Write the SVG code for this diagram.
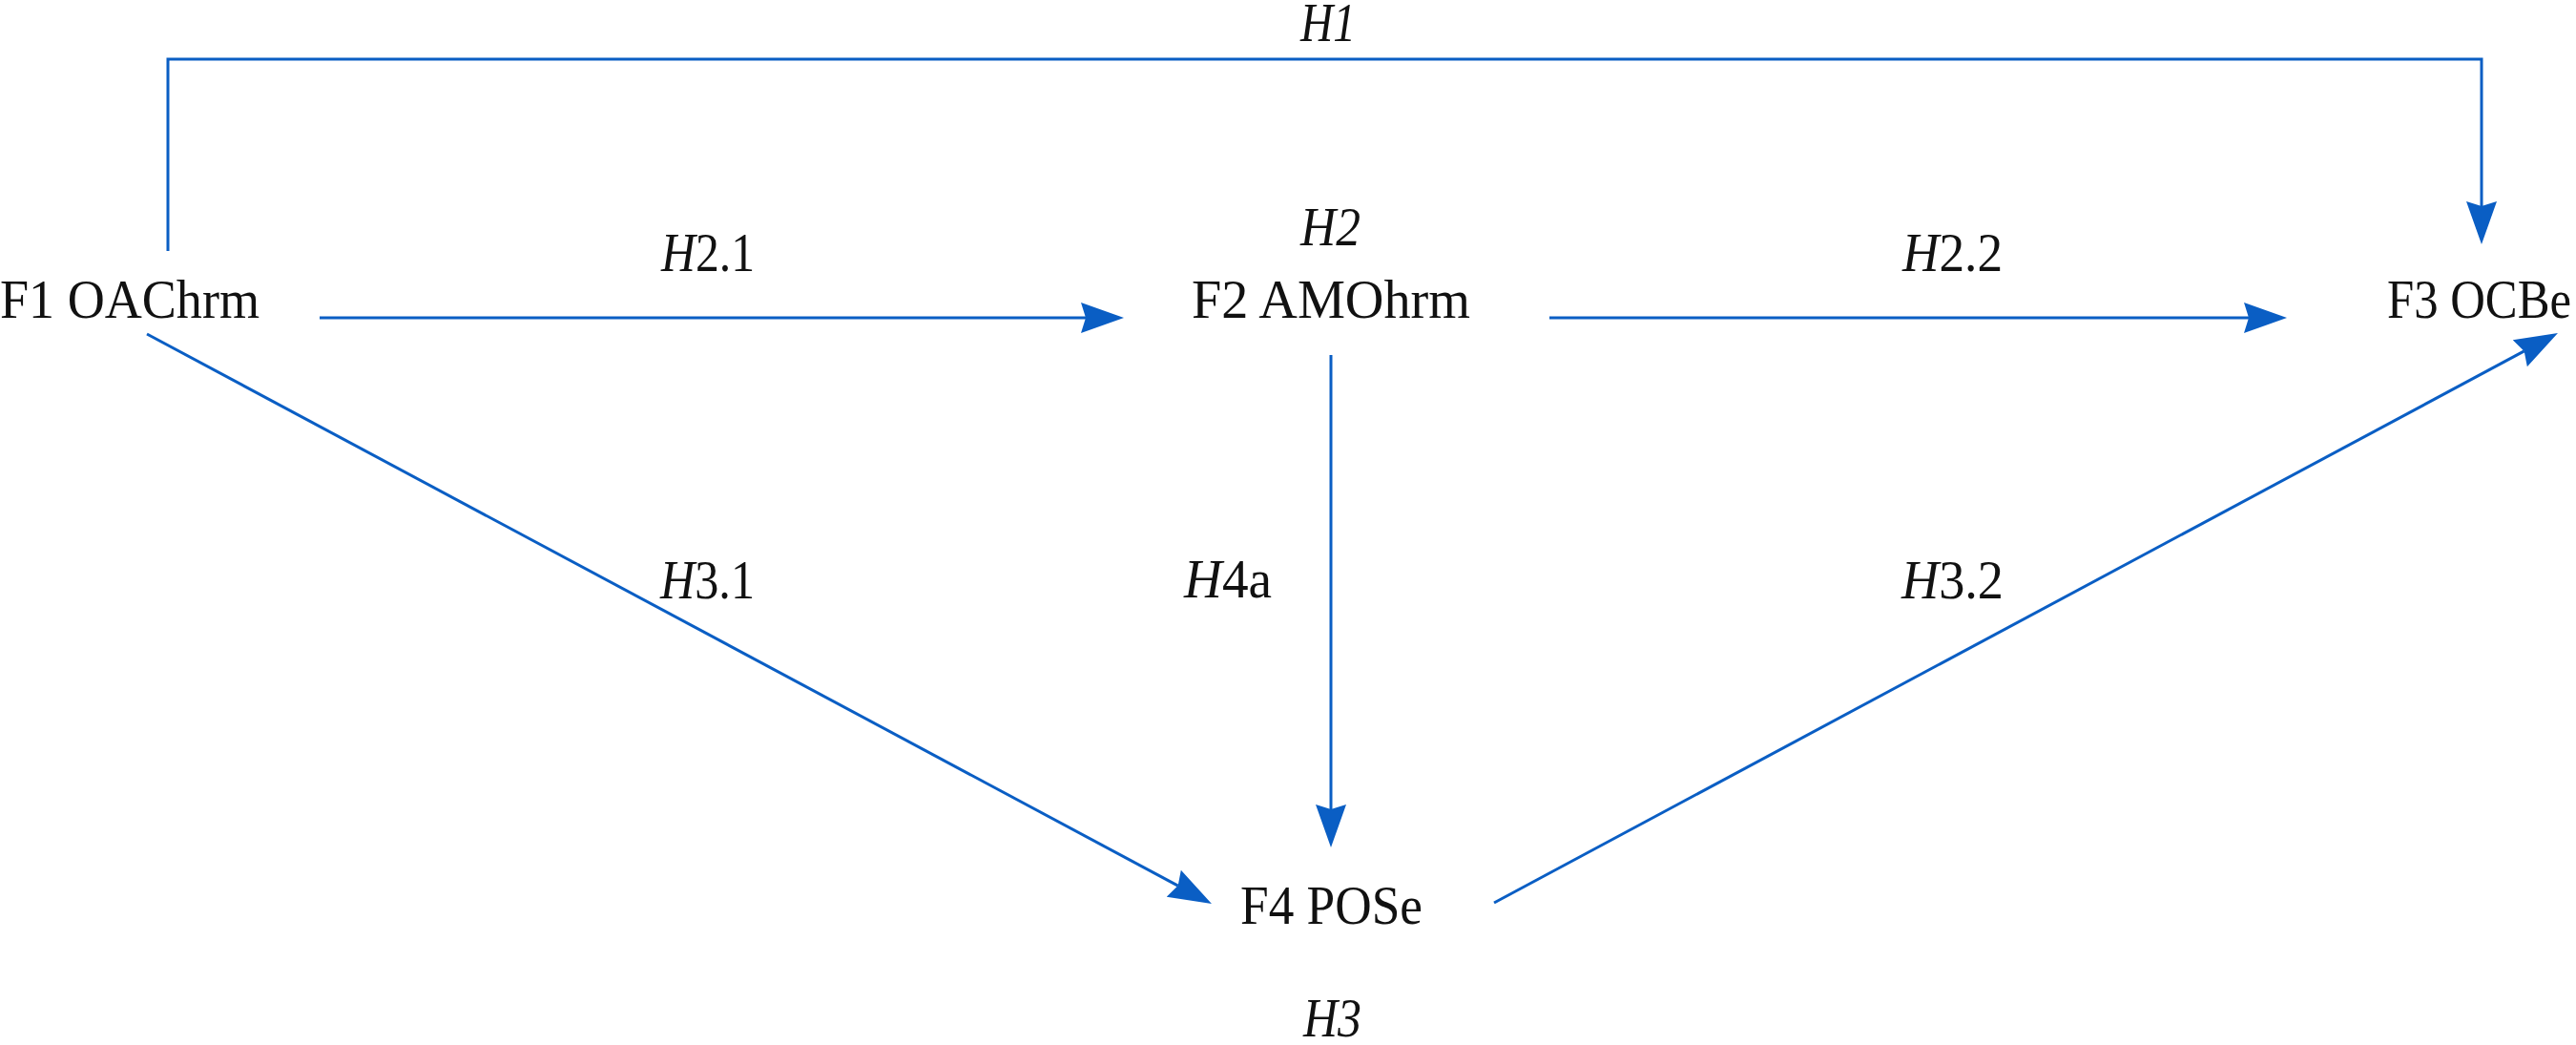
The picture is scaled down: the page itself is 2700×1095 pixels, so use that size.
<svg xmlns="http://www.w3.org/2000/svg" width="2700" height="1095" viewBox="0 0 2700 1095">
<style>
.t{font-family:"Liberation Serif","Times New Roman",serif;font-size:57px;fill:#111;}
.i{font-style:italic;}
.c{fill:none;stroke:#0a5ec4;stroke-width:3;}
</style>
<defs>
<marker id="ah" markerUnits="userSpaceOnUse" markerWidth="50" markerHeight="36" viewBox="0 -18 50 36" refX="5" refY="0" orient="auto">
<path d="M45,0 L0,-16 L5,0 L0,16 Z" fill="#0a5ec4"/>
</marker>
</defs>
<rect width="2700" height="1095" fill="#fff"/>
<g id="connectors">
<path class="c" d="M176,263 V62 H2601 V216" marker-end="url(#ah)"/>
<path class="c" d="M335,333 H1138" marker-end="url(#ah)"/>
<path class="c" d="M1624,333 H2357" marker-end="url(#ah)"/>
<path class="c" d="M1395,372 V848" marker-end="url(#ah)"/>
<path class="c" d="M154,350 L1234.7,928.1" marker-end="url(#ah)"/>
<path class="c" d="M1566,946 L2645.7,367.9" marker-end="url(#ah)"/>
</g>
<g id="labels">
<text class="t i" x="1363" y="43" textLength="58" lengthAdjust="spacingAndGlyphs">H1</text>
<text class="t i" x="1363" y="257" textLength="63" lengthAdjust="spacingAndGlyphs">H2</text>
<text class="t i" x="1366" y="1086" textLength="61" lengthAdjust="spacingAndGlyphs">H3</text>
<text class="t" x="693" y="284" textLength="98" lengthAdjust="spacingAndGlyphs"><tspan class="i">H</tspan>2.1</text>
<text class="t" x="1994" y="284" textLength="105" lengthAdjust="spacingAndGlyphs"><tspan class="i">H</tspan>2.2</text>
<text class="t" x="692" y="627" textLength="99" lengthAdjust="spacingAndGlyphs"><tspan class="i">H</tspan>3.1</text>
<text class="t" x="1993" y="627" textLength="107" lengthAdjust="spacingAndGlyphs"><tspan class="i">H</tspan>3.2</text>
<text class="t" x="1241" y="626" textLength="92" lengthAdjust="spacingAndGlyphs"><tspan class="i">H</tspan>4a</text>
</g>
<g id="F1"><text class="t" x="0" y="333" textLength="272" lengthAdjust="spacingAndGlyphs">F1 OAChrm</text></g>
<g id="F2"><text class="t" x="1249" y="333" textLength="292" lengthAdjust="spacingAndGlyphs">F2 AMOhrm</text></g>
<g id="F3"><text class="t" x="2502" y="333" textLength="193" lengthAdjust="spacingAndGlyphs">F3 OCBe</text></g>
<g id="F4"><text class="t" x="1300" y="968" textLength="191" lengthAdjust="spacingAndGlyphs">F4 POSe</text></g>
</svg>
